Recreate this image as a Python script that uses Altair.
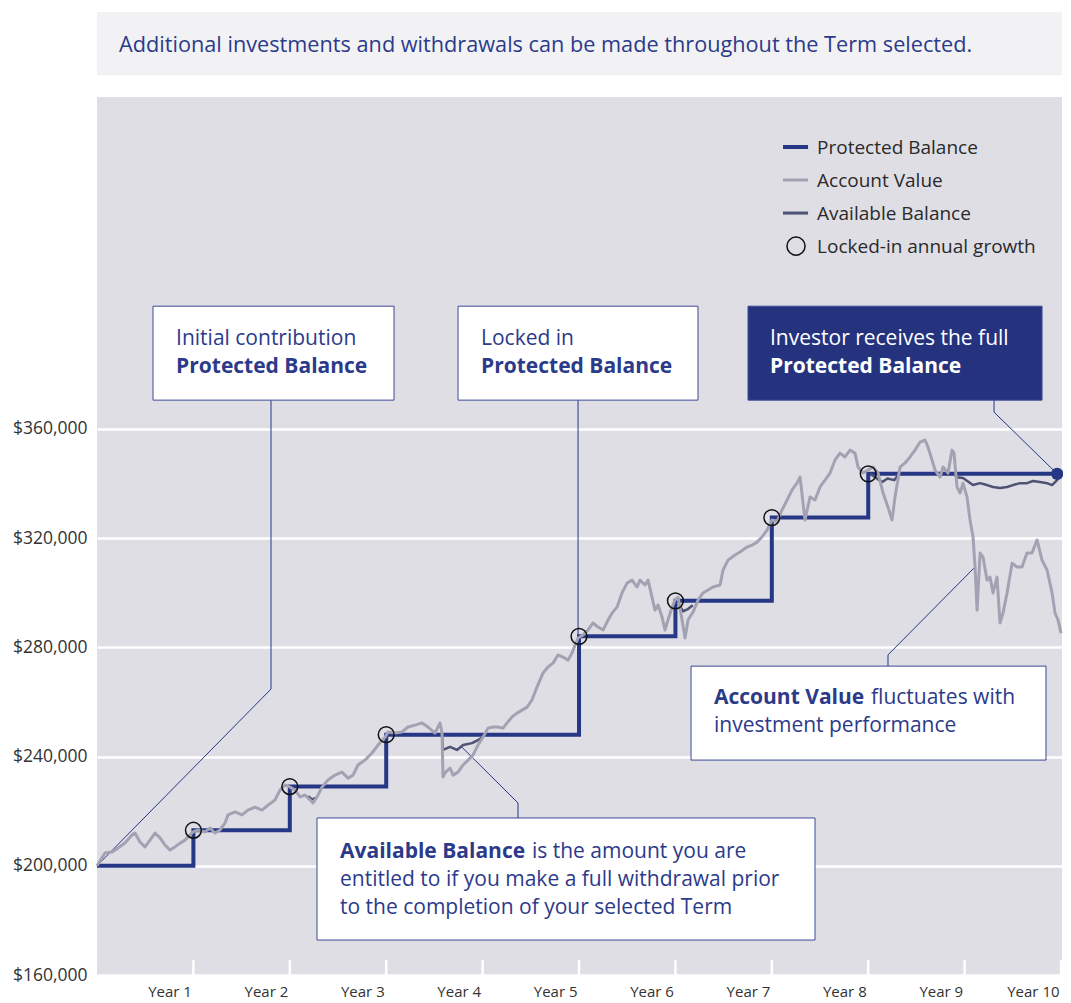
import altair as alt
import pandas as pd

# ---------------- data ----------------
year_ticks = [1, 2, 3, 4, 5, 6, 7, 8, 9, 10]
y_ticks = [160000, 200000, 240000, 280000, 320000, 360000]

# Account Value
av_years = [0.000, 0.083, 0.156, 0.218, 0.290, 0.363, 0.394, 0.446, 0.498, 0.550,
            0.602, 0.654, 0.705, 0.757, 0.809, 0.861, 0.913, 0.965, 0.996, 1.048,
            1.120, 1.172, 1.224, 1.276, 1.328, 1.359, 1.432, 1.504, 1.566, 1.639,
            1.712, 1.774, 1.846, 1.898, 1.950, 2.002, 2.054, 2.106, 2.158, 2.210,
            2.241, 2.282, 2.334, 2.396, 2.469, 2.541, 2.604, 2.656, 2.707, 2.780,
            2.853, 2.915, 2.988, 3.019, 3.091, 3.164, 3.226, 3.299, 3.371, 3.434,
            3.506, 3.558, 3.579, 3.589, 3.610, 3.662, 3.693, 3.745, 3.797, 3.849,
            3.900, 3.952, 4.004, 4.056, 4.108, 4.160, 4.212, 4.253, 4.305, 4.357,
            4.409, 4.461, 4.512, 4.564, 4.627, 4.678, 4.730, 4.782, 4.834, 4.886,
            4.927, 4.959, 4.990, 5.041, 5.093, 5.145, 5.197, 5.249, 5.301, 5.342,
            5.394, 5.446, 5.498, 5.550, 5.602, 5.633, 5.685, 5.716, 5.757, 5.788,
            5.820, 5.861, 5.892, 5.923, 5.965, 5.996, 6.027, 6.069, 6.100, 6.131,
            6.183, 6.235, 6.286, 6.338, 6.390, 6.463, 6.494, 6.546, 6.618, 6.670,
            6.743, 6.795, 6.846, 6.898, 6.950, 7.002, 7.054, 7.106, 7.158, 7.210,
            7.261, 7.293, 7.344, 7.396, 7.448, 7.500, 7.552, 7.604, 7.656, 7.707,
            7.759, 7.811, 7.863, 7.894, 7.946, 7.998, 8.050, 8.102, 8.154, 8.205,
            8.247, 8.278, 8.330, 8.382, 8.434, 8.485, 8.537, 8.589, 8.620, 8.662,
            8.693, 8.745, 8.776, 8.828, 8.869, 8.890, 8.921, 8.953, 8.983, 9.025,
            9.056, 9.087, 9.108, 9.129, 9.160, 9.191, 9.232, 9.263, 9.295, 9.336,
            9.367, 9.398, 9.440, 9.492, 9.544, 9.595, 9.647, 9.699, 9.751, 9.803,
            9.855, 9.907, 9.938, 9.969, 10.000]
av_values = [200000, 204700, 205000, 206500, 208300, 211300, 212000, 208700, 206900, 209400,
             212000, 210200, 207600, 205800, 206900, 208300, 209400, 211300, 212400, 213100,
             212400, 213800, 212000, 213100, 215700, 218600, 219700, 218600, 220400, 221500,
             220400, 222200, 224100, 227700, 229600, 228800, 227700, 225200, 225900, 224100,
             223000, 225200, 228800, 231400, 233200, 234300, 232100, 233200, 236900, 238700,
             241300, 244200, 247100, 249000, 248600, 249000, 250800, 251500, 252300, 250800,
             248600, 252300, 248600, 232500, 234000, 235800, 233200, 234300, 236900, 238700,
             240500, 244200, 247100, 250400, 250800, 250800, 250400, 252300, 254500, 255900,
             257000, 258100, 260700, 265400, 270600, 272800, 274200, 277200, 276400, 275300,
             277900, 280800, 283400, 284500, 286300, 288900, 287400, 286300, 290000, 292500,
             294700, 299900, 303500, 304600, 302100, 304600, 302800, 304600, 298400, 293600,
             295500, 291100, 286300, 290000, 294700, 297300, 298400, 290000, 283400, 290000,
             292900, 297300, 299900, 301000, 302100, 302800, 308300, 311900, 313800, 314900,
             316700, 317400, 318500, 320400, 322900, 326600, 325900, 330300, 333900, 337600,
             340100, 342300, 326600, 335000, 333900, 338700, 341200, 343800, 348600, 351100,
             349700, 352200, 351100, 346000, 343800, 344900, 346000, 343800, 336500, 331300,
             326600, 335000, 346000, 347500, 349700, 352200, 355100, 355900, 353300, 348600,
             344900, 342300, 346000, 343800, 352200, 351100, 338700, 336500, 340100, 335000,
             326600, 320400, 309400, 293600, 314500, 313000, 304600, 305700, 299900, 305700,
             288900, 292500, 299900, 310800, 309400, 309400, 314500, 314500, 319300, 311900,
             308300, 299900, 292500, 290000, 285200]

# Protected Balance (annual lock-ins)
pb_years = [0, 1, 2, 3, 4, 5, 6, 7, 8, 9, 10]
pb_values = [200000, 213000, 229000, 248000, 248000, 284000, 297000, 327500, 343500, 343500, 343500]

# Locked-in annual growth markers
lock_years = [1, 2, 3, 5, 6, 7, 8]
lock_values = [213000, 229000, 248000, 284000, 297000, 327500, 343500]

# Available Balance (visible segments)
ab_seg = [1, 1, 1,
          2, 2, 2, 2, 2, 2, 2, 2,
          3, 3, 3, 3,
          4, 4, 4, 4, 4, 4, 4,
          5, 5, 5, 5, 5, 5, 5, 5, 5, 5, 5, 5, 5, 5, 5, 5, 5, 5]
ab_years = [2.19, 2.23, 2.27,
            3.579, 3.589, 3.662, 3.734, 3.797, 3.890, 3.952, 4.004,
            6.03, 6.08, 6.13, 6.18,
            8.02, 8.05, 8.10, 8.15, 8.20, 8.27, 8.32,
            8.89, 8.921, 8.983, 9.087, 9.160, 9.232, 9.295, 9.367, 9.440, 9.502,
            9.575, 9.647, 9.710, 9.782, 9.855, 9.907, 9.959, 10.0]
ab_values = [225500, 224300, 224800,
             248200, 242400, 243500, 242400, 244200, 244900, 246000, 247100,
             296000, 293200, 294000, 295400,
             343400, 342800, 341500, 340600, 341800, 341200, 343400,
             343400, 342300, 342000, 339400, 340100, 339400, 338700, 338300, 338700, 339400,
             340100, 340100, 340900, 340500, 340100, 339400, 341200, 343400]

# Final Protected Balance paid out
final_year = [9.96]
final_value = [343500]

# ---------------- styling ----------------
FONT = "Open Sans"
NAVY = "#263786"
TXT = "#2c3a8a"
GREY = "#a3a2b3"
DARK = "#4e5273"
BG = "#dfdee5"
BANNER = "#f2f2f4"
LBL = "#333333"

xs = alt.Scale(domain=[0, 10.01], nice=False, zero=False)
ys = alt.Scale(domain=[160000, 481500], nice=False, zero=False)

x_axis = alt.Axis(values=year_ticks, labelExpr="'Year ' + datum.value", labelAlign="right",
                  labelOffset=-2, labelPadding=16, labelBaseline="middle", labelFontSize=15,
                  labelColor=LBL, labelFont=FONT, ticks=False, domain=False, grid=False,
                  title=None, labelFlush=False)
y_axis = alt.Axis(values=y_ticks, format="$,.0f", labelFontSize=17.5, labelColor=LBL,
                  labelFont=FONT, ticks=False, domain=False, grid=True, gridColor="white",
                  gridWidth=2.5, gridOpacity=1, labelPadding=10, title=None, labelFlush=False)


def X(f):
    return alt.X(f, type="quantitative", scale=xs, axis=x_axis, title=None)


def Y(f):
    return alt.Y(f, type="quantitative", scale=ys, axis=y_axis, title=None)


# ---------------- layers ----------------
pb_df = pd.DataFrame({"year": pb_years, "value": pb_values})
av_df = pd.DataFrame({"year": av_years, "value": av_values})
ab_df = pd.DataFrame({"seg": ab_seg, "year": ab_years, "value": ab_values})
lock_df = pd.DataFrame({"year": lock_years, "value": lock_values})
end_df = pd.DataFrame({"year": final_year, "value": final_value})

# layout of decorations, in chart units (years / dollars)
tick_df = pd.DataFrame({"year": year_ticks, "y0": [160000] * 10, "y1": [165500] * 10})
ticks = alt.Chart(tick_df).mark_rule(color="white", strokeWidth=2.5).encode(
    x=X("year"), y=Y("y0"), y2="y1")

conn_df = pd.DataFrame({
    "id": [1, 1, 1, 2, 2, 3, 3, 3, 4, 4, 4, 5, 5, 5],
    "ord": [0, 1, 2, 0, 1, 0, 1, 2, 0, 1, 2, 0, 1, 2],
    "x": [1.805, 1.805, 0.0, 4.990, 4.990, 9.305, 9.305, 9.96, 8.205, 8.205, 9.108, 4.367, 4.367, 3.786],
    "y": [370500, 264700, 200000, 370500, 283800, 370500, 366100, 343500, 273100, 277200, 309400,
          217500, 223000, 243400],
})
connectors = alt.Chart(conn_df).mark_line(color=NAVY, strokeWidth=1).encode(
    x=X("x"), y=Y("y"), detail="id:N", order="ord:Q")

prot = alt.Chart(pb_df).mark_line(color=NAVY, strokeWidth=4, interpolate="step-after").encode(
    x=X("year"), y=Y("value"))

avail = alt.Chart(ab_df).mark_line(color=DARK, strokeWidth=2.5, strokeJoin="round").encode(
    x=X("year"), y=Y("value"), detail="seg:N")

account = alt.Chart(av_df).mark_line(color=GREY, strokeWidth=3, strokeJoin="round").encode(
    x=X("year"), y=Y("value"))

locks = alt.Chart(lock_df).mark_point(shape="circle", size=250, filled=False, color="#111111",
                                      strokeWidth=1.5, opacity=1).encode(x=X("year"), y=Y("value"))

end_dot = alt.Chart(end_df).mark_point(shape="circle", size=150, filled=True, color=NAVY,
                                       opacity=1).encode(x=X("year"), y=Y("value"))

box_df = pd.DataFrame({
    "x1": [0.581, 3.745, 6.753, 6.162, 2.282],
    "x2": [3.081, 6.234, 9.803, 9.844, 7.448],
    "y1": [404900, 404900, 404900, 273100, 217500],
    "y2": [370500, 370500, 370500, 238700, 172800],
    "fill": ["white", "white", "#25337f", "white", "white"],
})
boxes = alt.Chart(box_df).mark_rect(stroke="#3d4a94", strokeWidth=1).encode(
    x=X("x1"), x2="x2", y=Y("y1"), y2="y2", fill=alt.Fill("fill:N", scale=None))

norm_df = pd.DataFrame({
    "x": [0.820, 3.983, 8.029, 6.400, 4.512, 2.521, 2.521],
    "y": [393600, 393600, 262200, 251900, 205800, 195500, 185300],
    "text": ["Initial contribution", "Locked in", "fluctuates with", "investment performance",
             "is the amount you are", "entitled to if you make a full withdrawal prior",
             "to the completion of your selected Term"],
})
bold_df = pd.DataFrame({
    "x": [0.820, 3.983, 6.400, 2.521],
    "y": [383300, 383300, 262200, 205800],
    "text": ["Protected Balance", "Protected Balance", "Account Value", "Available Balance"],
})
white_df = pd.DataFrame({"x": [6.981], "y": [393600], "text": ["Investor receives the full"]})
whiteb_df = pd.DataFrame({"x": [6.981], "y": [383300], "text": ["Protected Balance"]})

TXT_KW = dict(align="left", baseline="middle", font=FONT, fontSize=21, dy=2)
t_norm = alt.Chart(norm_df).mark_text(color=TXT, **TXT_KW).encode(x=X("x"), y=Y("y"), text="text:N")
t_bold = alt.Chart(bold_df).mark_text(fontWeight="bold", color=TXT, **TXT_KW).encode(
    x=X("x"), y=Y("y"), text="text:N")
t_white = alt.Chart(white_df).mark_text(color="white", **TXT_KW).encode(x=X("x"), y=Y("y"), text="text:N")
t_whiteb = alt.Chart(whiteb_df).mark_text(fontWeight="bold", color="white", **TXT_KW).encode(
    x=X("x"), y=Y("y"), text="text:N")

# legend (manual)
leg_names = ["Protected Balance", "Account Value", "Available Balance", "Locked-in annual growth"]
leg_y = [463200, 451100, 439000, 426900]
leg_x1, leg_x2, leg_cx, leg_tx = 7.116, 7.376, 7.251, 7.469


def leg_line(i, color, width):
    d = pd.DataFrame({"x1": [leg_x1], "x2": [leg_x2], "y": [leg_y[i]]})
    return alt.Chart(d).mark_rule(color=color, strokeWidth=width).encode(x=X("x1"), x2="x2", y=Y("y"))


leg1 = leg_line(0, NAVY, 4)
leg2 = leg_line(1, GREY, 3)
leg3 = leg_line(2, DARK, 3)
leg4 = alt.Chart(pd.DataFrame({"x": [leg_cx], "y": [leg_y[3]]})).mark_point(
    shape="circle", size=330, filled=False, color="#111111", strokeWidth=1.5, opacity=1).encode(
    x=X("x"), y=Y("y"))
leg_text = alt.Chart(pd.DataFrame({"x": [leg_tx] * 4, "y": leg_y, "text": leg_names})).mark_text(
    align="left", baseline="middle", font=FONT, fontSize=19, dy=1, color="#2a2a2a").encode(
    x=X("x"), y=Y("y"), text="text:N")

# banner above the plot
banner_rect = alt.Chart(pd.DataFrame({"x1": [0.0], "x2": [10.01], "y1": [489500], "y2": [512600]})).mark_rect(
    color=BANNER).encode(x=X("x1"), x2="x2", y=Y("y1"), y2="y2")
banner_text = alt.Chart(pd.DataFrame({
    "x": [0.228], "y": [501200],
    "text": ["Additional investments and withdrawals can be made throughout the Term selected."]})).mark_text(
    align="left", baseline="middle", font=FONT, fontSize=21.7, dy=2, color=TXT).encode(
    x=X("x"), y=Y("y"), text="text:N")

chart = alt.layer(
    ticks, connectors, prot, avail, account, locks, end_dot,
    boxes, t_norm, t_bold, t_white, t_whiteb,
    leg1, leg2, leg3, leg4, leg_text,
    banner_rect, banner_text,
).properties(
    width=965, height=878,
    autosize=alt.AutoSizeParams(type="none"),
    padding={"left": 89, "top": 89, "right": 1, "bottom": 28},
    background="white",
).configure_view(fill=BG, strokeWidth=0)

chart.save("out.html", embed_options={"renderer": "svg", "actions": False})
